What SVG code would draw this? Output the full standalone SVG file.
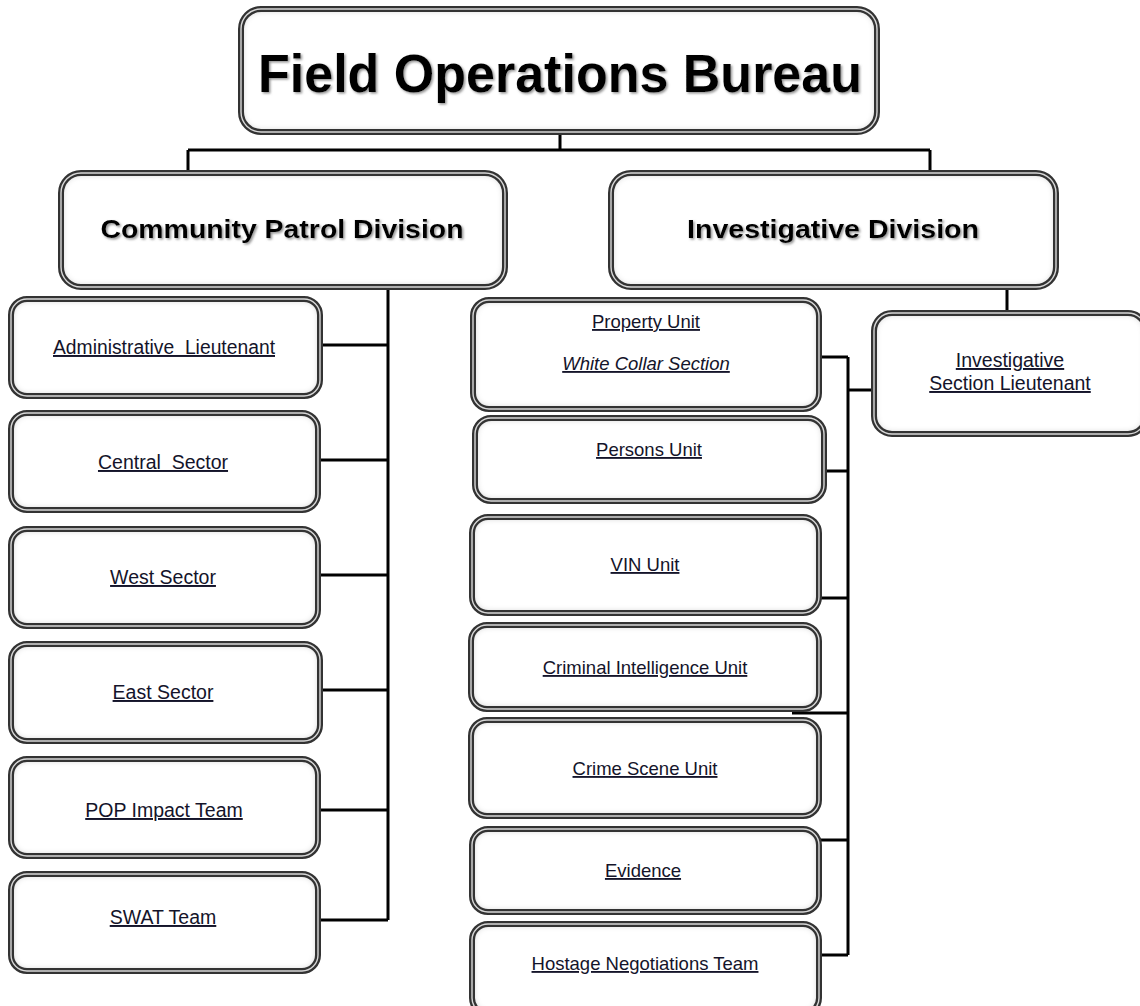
<svg xmlns="http://www.w3.org/2000/svg" width="1140" height="1006" viewBox="0 0 1140 1006">
<defs>
<filter id="inset" x="-5%" y="-10%" width="110%" height="120%">
<feFlood flood-color="#8a8a8a" result="c"/>
<feComposite in="c" in2="SourceAlpha" operator="out" result="o"/>
<feGaussianBlur in="o" stdDeviation="3.5" result="b"/>
<feComposite in="b" in2="SourceAlpha" operator="in" result="s"/>
<feMerge><feMergeNode in="SourceGraphic"/><feMergeNode in="s"/></feMerge>
</filter>
<filter id="tshadow" x="-5%" y="-20%" width="110%" height="140%">
<feDropShadow dx="1.5" dy="1.5" stdDeviation="1.2" flood-color="#777" flood-opacity="0.8"/>
</filter>
</defs>
<style>
.fill{fill:#fff;filter:url(#inset);}
.b1{fill:none;stroke:#333;stroke-width:6;}
.b2{fill:none;stroke:#d8d8d8;stroke-width:1.4;}
.title{font-family:"Liberation Sans",Arial,sans-serif;font-weight:bold;font-size:54px;fill:#000;text-anchor:middle;filter:url(#tshadow);}
.div{font-family:"Liberation Sans",Arial,sans-serif;font-weight:bold;font-size:26px;fill:#000;text-anchor:middle;filter:url(#tshadow);}
.lbl{font-family:"Liberation Sans",Arial,sans-serif;font-size:18.5px;fill:#14142a;text-anchor:middle;text-decoration:underline;}
.l{font-size:19.5px;}
.it{font-style:italic;}
.con{fill:none;stroke:#000;stroke-width:3;}
</style>
<rect width="1140" height="1006" fill="#fff"/>
<g id="connectors">
<path class="con" d="M560 133V150M188 150H930M188 150V172M930 150V172"/>
<path class="con" d="M388 287V920M320 345H388M320 460H388M320 575H388M320 690H388M320 810H388M320 920H388"/>
<path class="con" d="M1007 287V312M820 357H848M848 357V955M848 390H873M825 471H848M820 598H848M792 713H848M820 840H848M820 955H848"/>
</g>
<g id="n-fob"><rect class="fill" x="241" y="9" width="636" height="123" rx="20"/><rect class="b1" x="241" y="9" width="636" height="123" rx="20"/><rect class="b2" x="241" y="9" width="636" height="123" rx="20"/><text class="title" x="560" y="92" textLength="604" lengthAdjust="spacingAndGlyphs">Field Operations Bureau</text></g>
<g id="n-cpd"><rect class="fill" x="61" y="173" width="444" height="114" rx="20"/><rect class="b1" x="61" y="173" width="444" height="114" rx="20"/><rect class="b2" x="61" y="173" width="444" height="114" rx="20"/><text class="div" x="282" y="238" textLength="363" lengthAdjust="spacingAndGlyphs">Community Patrol Division</text></g>
<g id="n-id"><rect class="fill" x="611" y="173" width="445" height="114" rx="20"/><rect class="b1" x="611" y="173" width="445" height="114" rx="20"/><rect class="b2" x="611" y="173" width="445" height="114" rx="20"/><text class="div" x="833" y="238" textLength="292" lengthAdjust="spacingAndGlyphs">Investigative Division</text></g>
<g id="n-admin"><rect class="fill" x="11" y="299" width="309" height="97" rx="16"/><rect class="b1" x="11" y="299" width="309" height="97" rx="16"/><rect class="b2" x="11" y="299" width="309" height="97" rx="16"/><text class="lbl l" x="164" y="354" textLength="222" lengthAdjust="spacingAndGlyphs" xml:space="preserve">Administrative  Lieutenant</text></g>
<g id="n-central"><rect class="fill" x="11" y="413" width="307" height="97" rx="16"/><rect class="b1" x="11" y="413" width="307" height="97" rx="16"/><rect class="b2" x="11" y="413" width="307" height="97" rx="16"/><text class="lbl l" x="163" y="469" xml:space="preserve">Central  Sector</text></g>
<g id="n-west"><rect class="fill" x="11" y="529" width="307" height="97" rx="16"/><rect class="b1" x="11" y="529" width="307" height="97" rx="16"/><rect class="b2" x="11" y="529" width="307" height="97" rx="16"/><text class="lbl l" x="163" y="584">West Sector</text></g>
<g id="n-east"><rect class="fill" x="11" y="644" width="309" height="97" rx="16"/><rect class="b1" x="11" y="644" width="309" height="97" rx="16"/><rect class="b2" x="11" y="644" width="309" height="97" rx="16"/><text class="lbl l" x="163" y="699">East Sector</text></g>
<g id="n-pop"><rect class="fill" x="11" y="759" width="307" height="97" rx="16"/><rect class="b1" x="11" y="759" width="307" height="97" rx="16"/><rect class="b2" x="11" y="759" width="307" height="97" rx="16"/><text class="lbl l" x="164" y="817">POP Impact Team</text></g>
<g id="n-swat"><rect class="fill" x="11" y="874" width="307" height="97" rx="16"/><rect class="b1" x="11" y="874" width="307" height="97" rx="16"/><rect class="b2" x="11" y="874" width="307" height="97" rx="16"/><text class="lbl l" x="163" y="924">SWAT Team</text></g>
<g id="n-property"><rect class="fill" x="473" y="300" width="346" height="109" rx="16"/><rect class="b1" x="473" y="300" width="346" height="109" rx="16"/><rect class="b2" x="473" y="300" width="346" height="109" rx="16"/><text class="lbl" x="646" y="328">Property Unit</text><text class="lbl it" x="646" y="370">White Collar Section</text></g>
<g id="n-lt"><rect class="fill" x="874" y="313" width="272" height="121" rx="18"/><rect class="b1" x="874" y="313" width="272" height="121" rx="18"/><rect class="b2" x="874" y="313" width="272" height="121" rx="18"/><text class="lbl l" x="1010" y="367">Investigative</text><text class="lbl l" x="1010" y="390">Section Lieutenant</text></g>
<g id="n-persons"><rect class="fill" x="475" y="418" width="349" height="83" rx="16"/><rect class="b1" x="475" y="418" width="349" height="83" rx="16"/><rect class="b2" x="475" y="418" width="349" height="83" rx="16"/><text class="lbl" x="649" y="456">Persons Unit</text></g>
<g id="n-vin"><rect class="fill" x="472" y="517" width="347" height="96" rx="16"/><rect class="b1" x="472" y="517" width="347" height="96" rx="16"/><rect class="b2" x="472" y="517" width="347" height="96" rx="16"/><text class="lbl" x="645" y="571">VIN Unit</text></g>
<g id="n-ciu"><rect class="fill" x="471" y="625" width="348" height="84" rx="16"/><rect class="b1" x="471" y="625" width="348" height="84" rx="16"/><rect class="b2" x="471" y="625" width="348" height="84" rx="16"/><text class="lbl" x="645" y="674">Criminal Intelligence Unit</text></g>
<g id="n-csu"><rect class="fill" x="471" y="720" width="348" height="96" rx="16"/><rect class="b1" x="471" y="720" width="348" height="96" rx="16"/><rect class="b2" x="471" y="720" width="348" height="96" rx="16"/><text class="lbl" x="645" y="775">Crime Scene Unit</text></g>
<g id="n-evidence"><rect class="fill" x="472" y="829" width="347" height="83" rx="16"/><rect class="b1" x="472" y="829" width="347" height="83" rx="16"/><rect class="b2" x="472" y="829" width="347" height="83" rx="16"/><text class="lbl" x="643" y="877">Evidence</text></g>
<g id="n-hnt"><rect class="fill" x="472" y="924" width="347" height="90" rx="16"/><rect class="b1" x="472" y="924" width="347" height="90" rx="16"/><rect class="b2" x="472" y="924" width="347" height="90" rx="16"/><text class="lbl" x="645" y="970">Hostage Negotiations Team</text></g>
</svg>
